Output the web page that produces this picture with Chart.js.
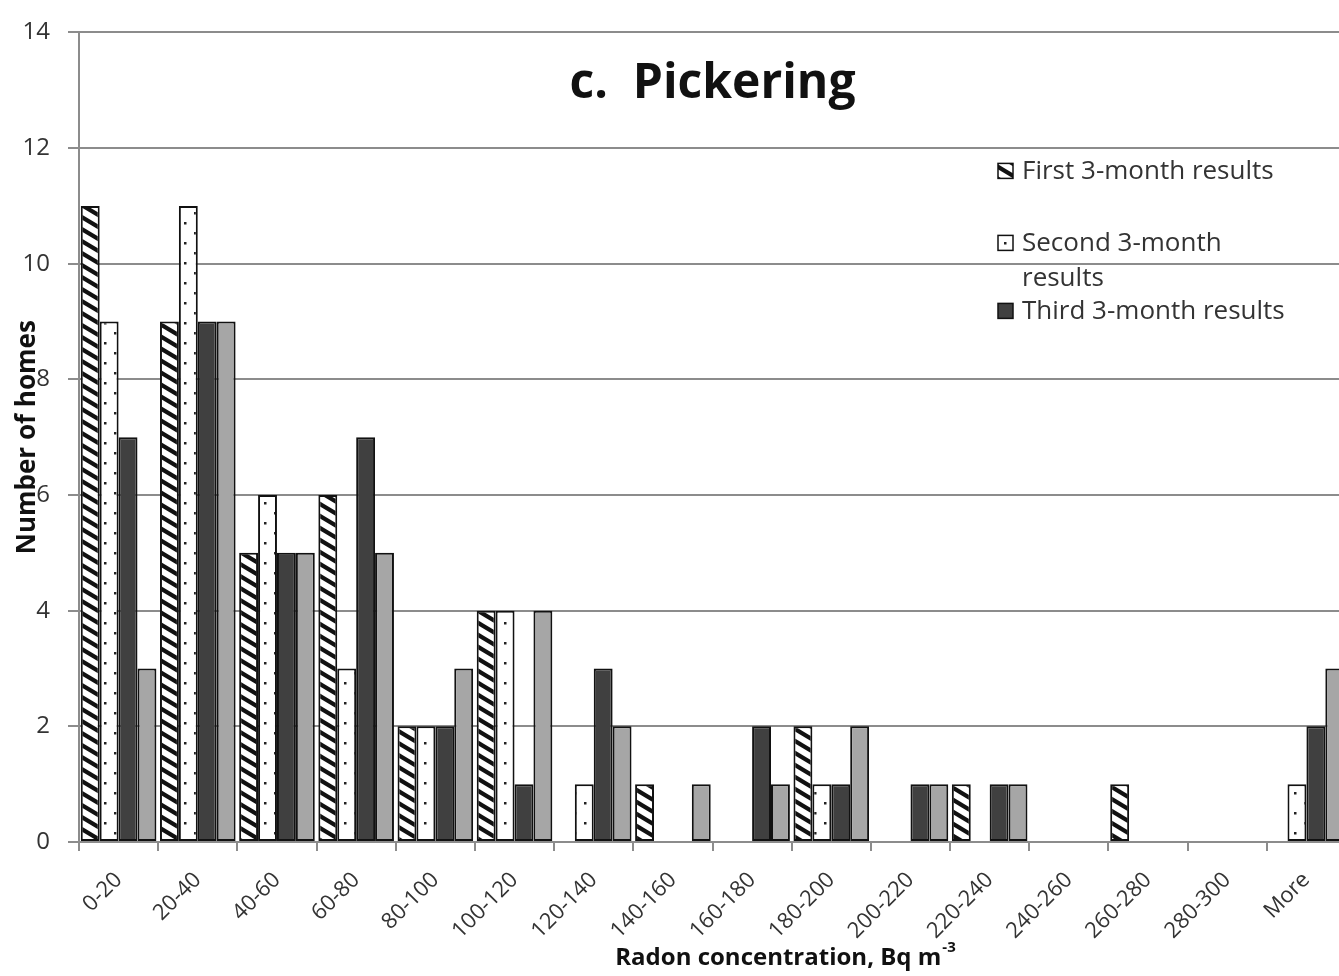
<!DOCTYPE html>
<html>
<head>
<meta charset="utf-8">
<title>c. Pickering</title>
<script src="https://cdn.jsdelivr.net/npm/chart.js@4/dist/chart.umd.min.js"></script>
<style>
    html, body { margin: 0; padding: 0; background: #fff; overflow: hidden; }
    #wrap { width: 1339px; height: 976px; overflow: hidden; }
</style>
</head>
<body>
<div id="wrap"><canvas id="radonChart" width="1350" height="976"></canvas></div>
<script>
// radon concentration classes, Bq m-3
const categories = ["0-20", "20-40", "40-60", "60-80", "80-100", "100-120", "120-140", "140-160",
    "160-180", "180-200", "200-220", "220-240", "240-260", "260-280", "280-300", "More"];

// number of homes per class
const firstResults  = [11, 9, 5, 6, 2, 4, 0, 1, 0, 2, 0, 1, 0, 1, 0, 0];
const secondResults = [9, 11, 6, 3, 2, 4, 1, 0, 0, 1, 0, 0, 0, 0, 0, 1];
const thirdResults  = [7, 9, 5, 7, 2, 1, 3, 0, 2, 1, 1, 1, 0, 0, 0, 2];
const fourthResults = [3, 9, 5, 5, 3, 4, 2, 1, 1, 2, 1, 1, 0, 0, 0, 3];

const yMin = 0;
const yMax = 14;
const yStep = 2;

const FONT = "'Open Sans', 'DejaVu Sans', sans-serif";
const GRID = "#8c8c8c";
const TEXT = "#333333";

// shallow "\" stripes like the excel wide downward diagonal
function hatchPattern() {
    const w = 20, h = 12;
    const c = document.createElement("canvas");
    c.width = w; c.height = h;
    const g = c.getContext("2d");
    g.fillStyle = "#fff";
    g.fillRect(0, 0, w, h);
    g.strokeStyle = "#111";
    g.lineWidth = 4.2;
    g.beginPath();
    for (const dy of [-h, 0, h]) {
        g.moveTo(-w, -h + dy);
        g.lineTo(2 * w, 2 * h + dy);
    }
    g.stroke();
    return g.createPattern(c, "repeat");
}

function dotPattern() {
    const c = document.createElement("canvas");
    c.width = 20; c.height = 20;
    const g = c.getContext("2d");
    g.fillStyle = "#fff";
    g.fillRect(0, 0, 20, 20);
    g.fillStyle = "#222";
    g.fillRect(4, 2, 2.5, 2.5);
    g.fillRect(14, 12, 2.5, 2.5);
    return g.createPattern(c, "repeat");
}

// title, axis titles and the legend sit inside / over the plot area
const overlays = {
    id: "overlays",
    afterDraw(chart) {
        const ctx = chart.ctx;
        const a = chart.chartArea;
        ctx.save();

        ctx.fillStyle = "#111";
        ctx.textAlign = "center";
        ctx.textBaseline = "middle";
        ctx.font = "bold 48px " + FONT;
        ctx.fillText("c.  Pickering", (a.left + a.right) / 2, a.top + 52);

        // y title
        ctx.save();
        ctx.translate(28, (a.top + a.bottom) / 2);
        ctx.rotate(-Math.PI / 2);
        ctx.font = "bold 26px " + FONT;
        ctx.fillText("Number of homes", 0, 0);
        ctx.restore();

        // x title with superscript
        const main = "Radon concentration, Bq m";
        const sup = "-3";
        ctx.font = "bold 24px " + FONT;
        const w1 = ctx.measureText(main).width;
        ctx.font = "bold 15px " + FONT;
        const w2 = ctx.measureText(sup).width;
        const cx = a.left + 706;
        const x0 = cx - (w1 + w2) / 2;
        ctx.textAlign = "left";
        ctx.font = "bold 24px " + FONT;
        ctx.fillText(main, x0, 958);
        ctx.font = "bold 15px " + FONT;
        ctx.fillText(sup, x0 + w1 + 1, 948);

        // legend
        const rows = [139, 211, 279];
        ctx.font = "26px " + FONT;
        chart.data.datasets.forEach((ds, i) => {
            if (!ds.legendLines) return;
            const y = a.top + rows[i];
            ctx.fillStyle = ds.backgroundColor;
            ctx.fillRect(998, y - 8, 15, 15);
            ctx.strokeStyle = "#111";
            ctx.lineWidth = 1.5;
            ctx.strokeRect(998, y - 8, 15, 15);
            ctx.fillStyle = TEXT;
            ds.legendLines.forEach((line, j) => ctx.fillText(line, 1022, y + j * 35));
        });
        ctx.restore();
    }
};

const hatch = hatchPattern();
const dots = dotPattern();

const barStyle = {
    borderColor: "#111",
    borderWidth: 2,
    borderSkipped: false,
    barPercentage: 1,
    categoryPercentage: 0.955
};

new Chart(document.getElementById("radonChart"), {
    type: "bar",
    data: {
        labels: categories,
        datasets: [
            { label: "First 3-month results", legendLines: ["First 3-month results"], data: firstResults, backgroundColor: hatch, ...barStyle },
            { label: "Second 3-month results", legendLines: ["Second 3-month", "results"], data: secondResults, backgroundColor: dots, ...barStyle },
            { label: "Third 3-month results", legendLines: ["Third 3-month results"], data: thirdResults, backgroundColor: "#404040", ...barStyle },
            { label: "Fourth 3-month results", data: fourthResults, backgroundColor: "#a6a6a6", ...barStyle }
        ]
    },
    options: {
        responsive: false,
        animation: false,
        devicePixelRatio: 1,
        layout: { padding: { top: 29, right: 4, left: 0, bottom: 0 } },
        plugins: {
            legend: { display: false },
            tooltip: { enabled: false }
        },
        scales: {
            x: {
                offset: true,
                grid: { offset: true, drawOnChartArea: false, drawTicks: true, tickLength: 9, color: GRID, lineWidth: 2 },
                border: { color: GRID, width: 2 },
                ticks: {
                    autoSkip: false,
                    minRotation: 45,
                    maxRotation: 45,
                    padding: 16,
                    color: TEXT,
                    font: { family: FONT, size: 22 }
                },
                afterFit(scale) { scale.height = 134; }
            },
            y: {
                min: yMin,
                max: yMax,
                grid: { color: GRID, lineWidth: 2, tickLength: 11 },
                border: { color: GRID, width: 2 },
                ticks: {
                    stepSize: yStep,
                    padding: 18,
                    color: TEXT,
                    font: { family: FONT, size: 24 }
                },
                afterFit(scale) { scale.width = 79; }
            }
        }
    },
    plugins: [overlays]
});
</script>
</body>
</html>
